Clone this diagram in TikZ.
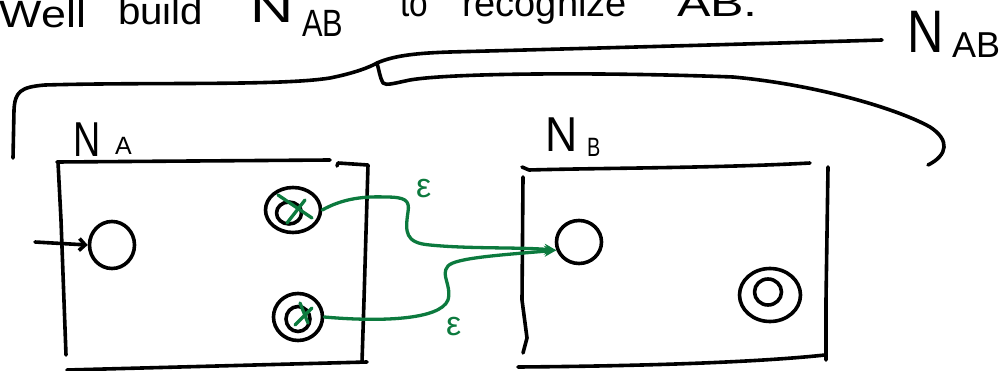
\documentclass[tikz,border=0pt]{standalone}
\usepackage{fontspec}
\setmainfont{Liberation Sans}
\usetikzlibrary{arrows.meta,shapes.geometric}
\definecolor{pen}{RGB}{12,122,62}
\newcommand\hwtext[3]{{\fontsize{#1}{#1}\selectfont\scalebox{#2}[1]{#3}}}
\begin{document}
\begin{tikzpicture}[x=1pt,y=-1pt,
  ink/.style={line width=3.6pt,line cap=round,line join=round},
  gink/.style={draw=pen,line width=3.3pt,line cap=round,line join=round},
  state/.style={draw,ink,ellipse,inner sep=0pt},
  txt/.style={anchor=base west,inner sep=0pt,outer sep=0pt},
  gtxt/.style={txt,text=pen}]
\useasboundingbox (0,0) rectangle (1000,371);
\clip (0,0) rectangle (1000,371);
% heading
\node[txt] (w1) at (0,28) {\hwtext{38}{1.18}{Well}};
\node[txt] (w2) at (118,25) {\hwtext{38}{1.06}{build}};
\node[txt] (w3) at (250,23) {\hwtext{44}{1.36}{N}};
\node[txt] (w3s) at (302,37) {\hwtext{38}{0.81}{AB}};
\node[txt] (w4) at (400,17) {\hwtext{38}{0.88}{to}};
\node[txt] (w5) at (462,17) {\hwtext{38}{1.0}{recognize}};
\node[txt] (w6) at (677,17) {\hwtext{38}{1.32}{AB.}};
% brace label
\node[txt] (nab) at (907,53) {\hwtext{60}{0.84}{N}};
\node[txt] (nabs) at (952,58) {\hwtext{36}{1}{AB}};
% brace
\draw[ink] (13,158) -- (14,110) .. controls (15,92) and (20,87) .. (45,85)
  .. controls (150,82) and (280,86) .. (330,78)
  .. controls (355,73) and (370,67) .. (377,63)
  .. controls (379,70) and (380,78) .. (383,83)
  .. controls (386,86) and (395,83) .. (410,80)
  .. controls (450,73) and (600,72) .. (733,77)
  .. controls (820,85) and (900,110) .. (930,127)
  .. controls (950,140) and (948,155) .. (928,165);
\draw[ink] (377,63) .. controls (395,55) and (420,53) .. (450,52)
  .. controls (600,48) and (750,44) .. (882,40);
% box A
\node[txt] (na) at (73,157) {\hwtext{49}{0.77}{N}};
\node[txt] (nas) at (115,155) {\hwtext{25}{1}{A}};
\draw[ink] (57,162) -- (330,160);
\draw[ink] (337,166) -- (338,163) -- (368,165) -- (364,300) -- (362,362);
\draw[ink] (58,162) -- (61,220) -- (66,355);
\draw[ink] (67,370) -- (367,362);
% box B
\node[txt] (nb) at (545,152) {\hwtext{49}{0.91}{N}};
\node[txt] (nbs) at (587,157) {\hwtext{26.5}{0.75}{B}};
\draw[ink] (522,167) -- (529,170) .. controls (600,168) and (720,168) .. (810,163);
\draw[ink] (523,177) -- (522,300) -- (527,338) -- (523,353);
\draw[ink] (828,167) -- (826,300) -- (826,360);
\draw[ink] (518,367) .. controls (650,366) and (760,362) .. (825,355);
% states
\node[state,minimum width=45pt,minimum height=47pt] (A0) at (112,245) {};
\node[state,minimum width=55pt,minimum height=45pt] (A1) at (293,210) {};
\node[state,minimum width=25pt,minimum height=22pt] (A1i) at (289,213) {};
\node[state,minimum width=49pt,minimum height=47pt] (A2) at (298,317) {};
\node[state,minimum width=24pt,minimum height=25pt] (A2i) at (298,319) {};
\node[state,minimum width=45pt,minimum height=43pt] (B0) at (579,242) {};
\node[state,minimum width=61pt,minimum height=53pt] (B1) at (770,295) {};
\node[state,minimum width=27pt,minimum height=26pt] (B1i) at (768,292) {};
% start arrow
\coordinate (s) at (35,242);
\draw[ink,-{Straight Barb[length=6pt,width=12pt]}] (s) -- (A0.west);
% crosses
\draw[gink] (278,195) -- (312,218);
\draw[gink] (305,200) -- (287,223);
\draw[gink] (300,303) -- (308,323);
\draw[gink] (312,308) -- (295,325);
% epsilon arrows
\draw[gink,-{Stealth[length=12pt,width=11pt]}] (A1.east)
  .. controls (340,200) and (360,196) .. (385,197)
  .. controls (405,197) and (410,200) .. (408,212)
  .. controls (405,232) and (405,243) .. (430,245)
  .. controls (470,249) and (520,247) .. (B0.200);
\draw[gink,-{Stealth[length=12pt,width=11pt]}] (A2.east)
  .. controls (380,322) and (440,320) .. (448,300)
  .. controls (452,285) and (440,275) .. (448,266)
  .. controls (455,258) and (500,255) .. (B0.200);
\node[gtxt] (e1) at (416,198) {\hwtext{34}{1}{ε}};
\node[gtxt] (e2) at (446,335) {\hwtext{34}{1}{ε}};
\end{tikzpicture}
\end{document}
